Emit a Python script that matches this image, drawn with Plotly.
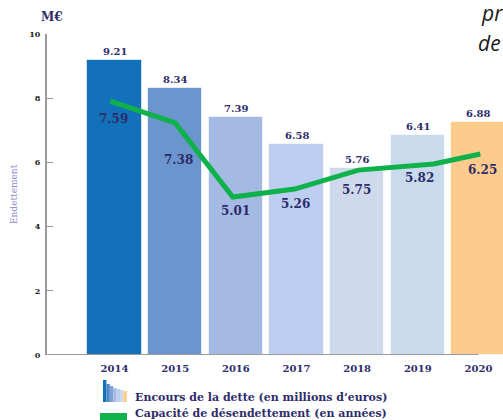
import plotly.graph_objects as go

years = ["2014", "2015", "2016", "2017", "2018", "2019", "2020"]
# Debt outstanding (M€) as drawn by the bars, and their printed labels
bar_heights = [9.20, 8.32, 7.41, 6.57, 5.83, 6.85, 7.26]
bar_labels = ["9.21", "8.34", "7.39", "6.58", "5.76", "6.41", "6.88"]
# Debt-reduction capacity (years) as drawn by the green line, and its printed labels
line_values = [7.91, 7.23, 4.92, 5.17, 5.76, 5.95, 6.26]
line_labels = ["7.59", "7.38", "5.01", "5.26", "5.75", "5.82", "6.25"]
y_ticks = [0, 2, 4, 6, 8, 10]

# ---- styles ----
bar_colors = ["#1271b8", "#6b96cd", "#a5bae2", "#bdcef0", "#cfd9ec", "#c9daec", "#fdcb8b"]
green = "#0fb14a"
navy = "#2d2c6a"
serif = "DejaVu Serif"
line_x_shift = [-0.07, 0.0, -0.05, -0.03, 0.02, 0.26, 0.03]
inner_dy = [18, 37, 14, 15, 20, 14, 16]
inner_dx = [-1, 3, 0, -1, -1, 2, 4]

W, H = 503, 420
L, R, T, B = 47, 0, 34, 65
xs = list(range(len(years)))

fig = go.Figure()
fig.add_trace(go.Bar(
    x=xs, y=bar_heights, width=0.9,
    marker=dict(color=bar_colors, line=dict(color="rgba(255,255,255,0.6)", width=1)),
    hoverinfo="skip", showlegend=False,
))
fig.add_trace(go.Scatter(
    x=[i + s for i, s in zip(xs, line_x_shift)], y=line_values, mode="lines",
    line=dict(color=green, width=5), hoverinfo="skip", showlegend=False,
))

ann = []
for i, (h, t) in enumerate(zip(bar_heights, bar_labels)):
    ann.append(dict(x=i, y=h, text=t, showarrow=False, yanchor="bottom", yshift=1,
                    font=dict(family=serif, size=10, color=navy, weight="bold"), xref="x", yref="y"))
for i, (v, t) in enumerate(zip(line_values, line_labels)):
    ann.append(dict(x=i, y=v, text=t, showarrow=False, yanchor="middle",
                    yshift=-inner_dy[i], xshift=inner_dx[i],
                    font=dict(family=serif, size=12, color=navy, weight="bold"), xref="x", yref="y"))

def px(xp):
    return (xp - L) / (W - L - R)

def py(yp):
    return (H - B - yp) / (H - T - B)

def pann(x, y, text, font, xanchor="center", **kw):
    d = dict(x=px(x), y=py(y), text=text, showarrow=False, xref="paper", yref="paper",
             xanchor=xanchor, yanchor="middle", font=font)
    d.update(kw)
    return d

ann.append(pann(52, 17, "M€", dict(family=serif, size=12, color=navy, weight="bold")))
ann.append(pann(14, 194, "Endettement", dict(family=serif, size=9, color="#8c8ccc"), textangle=-90))
ann.append(pann(133, 398, "Encours de la dette (en millions d’euros)",
                dict(family=serif, size=11, color=navy, weight="bold"), xanchor="left"))
ann.append(pann(133, 414, "Capacité de désendettement (en années)",
                dict(family=serif, size=11, color=navy, weight="bold"), xanchor="left"))
ann.append(pann(479, 13, "<i>pr</i>", dict(family="Open Sans", size=21, color="#1a1a1a"), xanchor="left"))
ann.append(pann(476, 43, "<i>de</i>", dict(family="Open Sans", size=21, color="#1a1a1a"), xanchor="left"))

shapes = [dict(type="line", xref="x", yref="y", x0=-1.12, x1=6.0, y0=0, y1=0,
               line=dict(color="#9a9a9a", width=2))]
# legend icon: small stepped bars
icon_tops = [380, 384, 386, 388, 389, 390, 391]
icon_cols = ["#1271b8", "#4f86c6", "#7fa2d6", "#a5bae2", "#bdcef0", "#cfd9ec", "#fdcb8b"]
for k, (tp, c) in enumerate(zip(icon_tops, icon_cols)):
    shapes.append(dict(type="rect", xref="paper", yref="paper",
                       x0=px(103 + k * 3.4), x1=px(103 + (k + 1) * 3.4),
                       y0=py(402), y1=py(tp), line=dict(width=0), fillcolor=c))
shapes.append(dict(type="rect", xref="paper", yref="paper", x0=px(100), x1=px(127),
                   y0=py(422), y1=py(413), line=dict(width=0), fillcolor=green))

fig.update_layout(
    width=W, height=H, margin=dict(l=L, r=R, t=T, b=B),
    paper_bgcolor="white", plot_bgcolor="white",
    annotations=ann, shapes=shapes, bargap=0,
    xaxis=dict(range=[-1.113, 6.404], tickvals=xs, ticktext=years, showgrid=False,
               zeroline=False, showline=False, ticks="",
               tickfont=dict(family=serif, size=10, color=navy, weight="bold"), ticklabelstandoff=6),
    yaxis=dict(range=[0, 10], tickvals=y_ticks, ticktext=[str(v) for v in y_ticks],
               showgrid=False, zeroline=False, showline=True, linecolor="#9a9a9a", linewidth=2,
               ticks="inside", ticklen=6, tickcolor="#9a9a9a", tickwidth=1,
               tickfont=dict(family=serif, size=8, color="#222", weight="bold"), ticklabelstandoff=3),
)
fig.write_html("out.html", config={"displayModeBar": False})
with open("out.html", encoding="utf-8") as f:
    html = f.read()
html = html.replace("<head>", "<head><style>html,body{margin:0;padding:0;overflow:hidden}</style>", 1)
with open("out.html", "w", encoding="utf-8") as f:
    f.write(html)
